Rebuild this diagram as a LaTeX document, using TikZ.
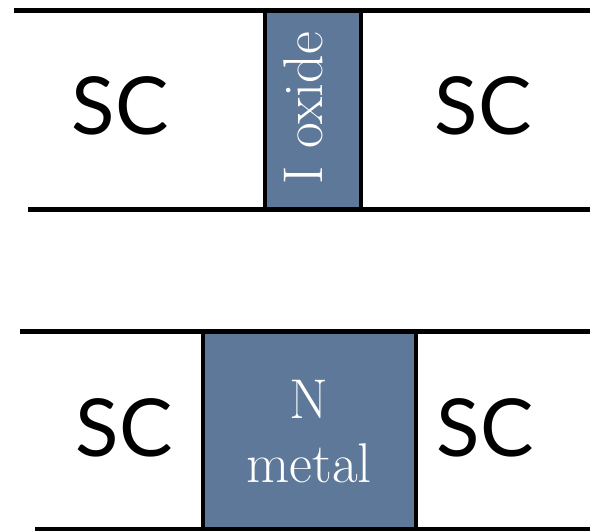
\documentclass[tikz,border=0pt]{standalone}
\usepackage{fontspec}
\newfontfamily\scfont{Lato}
\definecolor{slate}{HTML}{5D7898}
\tikzset{
  rail/.style={line width=5pt},
  layer/.style={fill=slate, draw=black, line width=3.5pt},
  sclabel/.style={font=\scfont\fontsize{80}{90}\selectfont, anchor=base, inner sep=0pt},
  inlabel/.style={font=\fontsize{56}{64}\selectfont, text=white, inner sep=0pt}
}
\begin{document}
\begin{tikzpicture}[x=1pt,y=-1pt]
\useasboundingbox (0,0) rectangle (590,531);
% upper junction
\draw[layer] (265,10) rectangle (361,209);
\coordinate (t1l) at (14,10);  \coordinate (t1r) at (590,10);
\coordinate (b1l) at (28,209); \coordinate (b1r) at (590,209);
\draw[rail] (t1l) -- (t1r);
\draw[rail] (b1l) -- (b1r);
\node[sclabel] (sc1) at (120,134) {SC};
\node[sclabel] (sc2) at (483,134) {SC};
\node[inlabel, rotate=90, anchor=base] (ox) at (322,108) {I oxide};
% lower junction
\draw[layer] (203,331) rectangle (416,529);
\coordinate (t2l) at (20,331);  \coordinate (t2r) at (590,331);
\coordinate (b2l) at (35,529);  \coordinate (b2r) at (590,529);
\draw[rail] (t2l) -- (t2r);
\draw[rail] (b2l) -- (b2r);
\node[sclabel] (sc3) at (124,456) {SC};
\node[sclabel] (sc4) at (485,456) {SC};
\node[inlabel, anchor=base] (nn) at (309,418) {N};
\node[inlabel, anchor=base] (nm) at (309,482) {metal};
\end{tikzpicture}
\end{document}
